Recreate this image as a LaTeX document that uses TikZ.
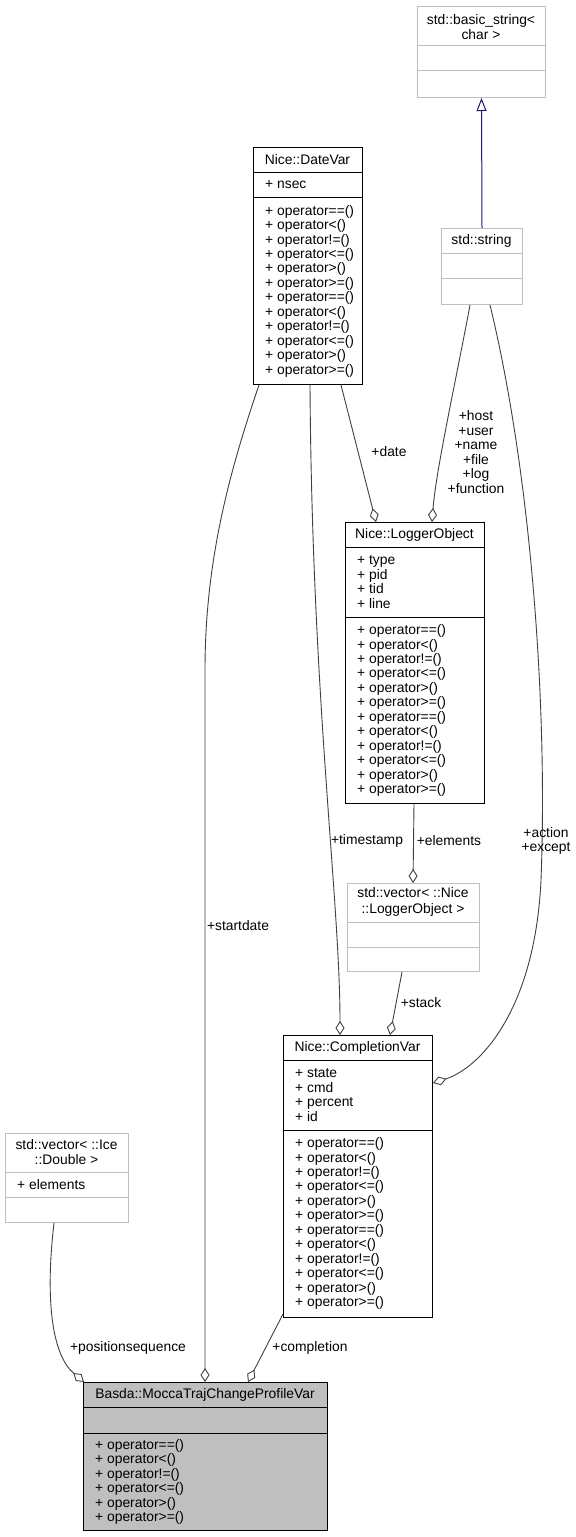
\documentclass[tikz,border=0pt]{standalone}
\usepackage{fontspec}
\setmainfont{Liberation Sans}
\usetikzlibrary{arrows.meta}
\definecolor{edgec}{HTML}{404040}
\definecolor{navyc}{HTML}{191970}
\definecolor{graybox}{HTML}{BFBFBF}
\definecolor{grayfill}{HTML}{BFBFBF}
\tikzset{
  cls/.style={draw=black, line width=1bp, inner sep=0, anchor=north west},
  stdcls/.style={draw=graybox, line width=1bp, inner sep=0, anchor=north west},
  txt/.style={inner sep=0, font=\fontsize{13.9}{14.5}\selectfont, align=left, anchor=west},
  ttl/.style={inner sep=0, font=\fontsize{13.9}{15.5}\selectfont, align=center, anchor=center},
  lbl/.style={inner sep=0, font=\fontsize{13.9}{14.5}\selectfont, align=center, anchor=center},
  assoc/.style={draw=edgec, line width=0.9bp, -{Diamond[open,length=14bp,width=9bp,line width=0.9bp]}},
  inher/.style={draw=navyc, line width=1bp, -{Triangle[open,length=13bp,width=10bp,line width=1bp]}},
  sepblack/.style={draw=black, line width=1bp},
  sepgray/.style={draw=graybox, line width=1bp}
}
\begin{document}
\begin{tikzpicture}[x=1bp,y=-1bp]
\useasboundingbox (0,0) rectangle (576,1537);

% std::basic_string<char>
\node[stdcls, minimum width=128bp, minimum height=91bp] (bstr) at (417,6) {};
\draw[sepgray] (417,46) -- (545,46);
\draw[sepgray] (417,71) -- (545,71);
\node[ttl] (bstrT) at (481,27) {std::basic\_string<\\char >};

% std::string
\node[stdcls, minimum width=81bp, minimum height=76bp] (str) at (441,228) {};
\draw[sepgray] (441,253) -- (522,253);
\draw[sepgray] (441,278) -- (522,278);
\node[ttl] (strT) at (481.5,241) {std::string};

% Nice::DateVar
\node[cls, minimum width=109bp, minimum height=237bp] (dv) at (253,147) {};
\draw[sepblack] (253,172) -- (362,172);
\draw[sepblack] (253,197) -- (362,197);
\node[ttl] (dvT) at (307.5,160) {Nice::DateVar};
\node[txt] (dvA) at (265,185) {+ nsec};
\node[txt] (dvM) at (265,291) {+ operator==()\\+ operator<()\\+ operator!=()\\+ operator<=()\\+ operator>()\\+ operator>=()\\+ operator==()\\+ operator<()\\+ operator!=()\\+ operator<=()\\+ operator>()\\+ operator>=()};

% Nice::LoggerObject
\node[cls, minimum width=139bp, minimum height=281bp] (lo) at (345,522) {};
\draw[sepblack] (345,547) -- (484,547);
\draw[sepblack] (345,617) -- (484,617);
\node[ttl] (loT) at (414.5,535) {Nice::LoggerObject};
\node[txt] (loA) at (357,582) {+ type\\+ pid\\+ tid\\+ line};
\node[txt] (loM) at (357,710.5) {+ operator==()\\+ operator<()\\+ operator!=()\\+ operator<=()\\+ operator>()\\+ operator>=()\\+ operator==()\\+ operator<()\\+ operator!=()\\+ operator<=()\\+ operator>()\\+ operator>=()};

% std::vector< ::Nice::LoggerObject >
\node[stdcls, minimum width=132bp, minimum height=88bp] (vlo) at (347,883) {};
\draw[sepgray] (347,922) -- (479,922);
\draw[sepgray] (347,947) -- (479,947);
\node[ttl] (vloT) at (413,902) {std::vector< ::Nice\\::LoggerObject >};

% Nice::CompletionVar
\node[cls, minimum width=149bp, minimum height=282bp] (cv) at (283,1035) {};
\draw[sepblack] (283,1060) -- (432,1060);
\draw[sepblack] (283,1130) -- (432,1130);
\node[ttl] (cvT) at (357.5,1048) {Nice::CompletionVar};
\node[txt] (cvA) at (295,1095) {+ state\\+ cmd\\+ percent\\+ id};
\node[txt] (cvM) at (295,1223.5) {+ operator==()\\+ operator<()\\+ operator!=()\\+ operator<=()\\+ operator>()\\+ operator>=()\\+ operator==()\\+ operator<()\\+ operator!=()\\+ operator<=()\\+ operator>()\\+ operator>=()};

% std::vector< ::Ice::Double >
\node[stdcls, minimum width=123bp, minimum height=89bp] (vid) at (5,1133) {};
\draw[sepgray] (5,1172) -- (128,1172);
\draw[sepgray] (5,1197) -- (128,1197);
\node[ttl] (vidT) at (66.5,1152) {std::vector< ::Ice\\::Double >};
\node[txt] (vidA) at (17,1185) {+ elements};

% Basda::MoccaTrajChangeProfileVar
\node[cls, fill=grayfill, minimum width=244bp, minimum height=148bp] (bm) at (83,1382) {};
\draw[sepblack] (83,1407) -- (327,1407);
\draw[sepblack] (83,1433) -- (327,1433);
\node[ttl] (bmT) at (205,1395) {Basda::MoccaTrajChangeProfileVar};
\node[txt] (bmM) at (95,1482) {+ operator==()\\+ operator<()\\+ operator!=()\\+ operator<=()\\+ operator>()\\+ operator>=()};

\coordinate (sdEnd) at (205,1382);

% connectors
\draw[inher] (str.north) -- (bstr.south);

\draw[assoc] ([xshift=6bp]dv.south west) .. controls (230,470) and (205,560) .. (205,670) -- (sdEnd);
\node[lbl] (l1) at (238,926) {+startdate};

\draw[assoc] ([xshift=57bp]dv.south west) .. controls (312,700) and (340,900) .. ([xshift=57bp]cv.north west);
\node[lbl] (l2) at (367,841) {+timestamp};

\draw[assoc] ([xshift=88bp]dv.south west) -- ([xshift=31bp]lo.north west);
\node[lbl] (l3) at (389,452) {+date};

\draw[assoc] ([xshift=29bp]str.south west) .. controls (456,380) and (436,470) .. ([xshift=87bp]lo.north west);
\node[lbl] (l4) at (476,452) {+host\\+user\\+name\\+file\\+log\\+function};

\draw[assoc] ([xshift=49bp]str.south west) .. controls (530,470) and (548,700) .. (541,880) .. controls (535,1010) and (480,1068) .. ([yshift=-48bp]cv.north east);
\node[lbl] (l5) at (546,841) {+action\\+except};

\draw[assoc] ([xshift=69bp]lo.south west) -- ([xshift=66bp]vlo.north west);
\node[lbl] (l6) at (449,841) {+elements};

\draw[assoc] ([xshift=55bp]vlo.south west) -- ([xshift=107bp]cv.north west);
\node[lbl] (l7) at (421,1003) {+stack};

\draw[assoc] ([xshift=49bp]vid.south west) .. controls (45,1300) and (52,1355) .. ([xshift=1bp]bm.north west);
\node[lbl] (l8) at (128,1348) {+positionsequence};

\draw[assoc] ([yshift=4bp]cv.south west) -- ([xshift=165bp]bm.north west);
\node[lbl] (l9) at (310,1348) {+completion};
\end{tikzpicture}
\end{document}
